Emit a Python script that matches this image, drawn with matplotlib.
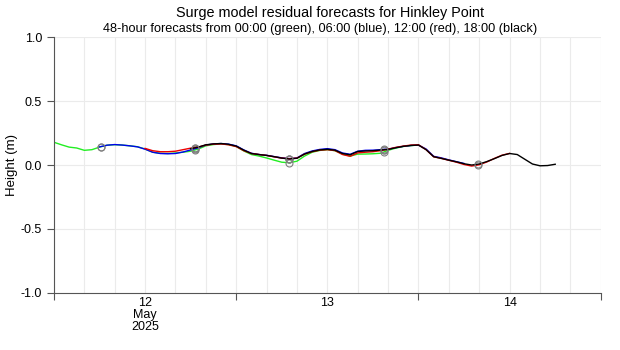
import matplotlib.pyplot as plt
import matplotlib.dates as mdates
import numpy as np
import pandas as pd

plt.rcParams['font.family'] = ['Liberation Sans', 'DejaVu Sans']

# hourly surge residual (m), each forecast run starts at its issue time
start_green = '2025-05-12 00:00'
green = [0.178, 0.158, 0.140, 0.133, 0.115, 0.120, 0.140, 0.155, 0.159, 0.156,
         0.150, 0.143, 0.125, 0.100, 0.092, 0.090, 0.094, 0.100, 0.108, 0.125,
         0.150, 0.160, 0.165, 0.160, 0.145, 0.110, 0.082, 0.070, 0.055, 0.038,
         0.022, 0.018, 0.030, 0.070, 0.100, 0.114, 0.120, 0.112, 0.085, 0.070,
         0.085, 0.086, 0.088, 0.092, 0.115, 0.132, 0.145, 0.152, 0.156]

start_blue = '2025-05-12 06:00'
blue = [0.142, 0.155, 0.160, 0.156, 0.150, 0.142, 0.124, 0.100, 0.090, 0.088,
        0.090, 0.102, 0.118, 0.135, 0.156, 0.165, 0.168, 0.163, 0.150, 0.118,
        0.092, 0.082, 0.076, 0.066, 0.056, 0.050, 0.055, 0.090, 0.110, 0.122,
        0.128, 0.120, 0.094, 0.084, 0.108, 0.115, 0.116, 0.120, 0.124, 0.136,
        0.146, 0.153, 0.156, 0.125, 0.068, 0.056, 0.040, 0.026, 0.012]

start_red = '2025-05-12 12:00'
red = [0.130, 0.112, 0.104, 0.104, 0.108, 0.120, 0.132, 0.140, 0.156, 0.163,
       0.165, 0.158, 0.144, 0.112, 0.090, 0.082, 0.075, 0.064, 0.054, 0.050,
       0.054, 0.085, 0.104, 0.116, 0.120, 0.113, 0.082, 0.068, 0.095, 0.100,
       0.104, 0.112, 0.124, 0.138, 0.148, 0.156, 0.158, 0.120, 0.064, 0.052,
       0.037, 0.022, 0.004, -0.008, 0.002, 0.024, 0.052, 0.077, 0.091]

start_black = '2025-05-12 18:00'
black = [0.127, 0.140, 0.158, 0.165, 0.168, 0.162, 0.148, 0.116, 0.090, 0.082,
         0.075, 0.065, 0.054, 0.047, 0.053, 0.086, 0.106, 0.118, 0.123, 0.116,
         0.090, 0.080, 0.106, 0.110, 0.112, 0.117, 0.122, 0.135, 0.146, 0.153,
         0.156, 0.120, 0.065, 0.052, 0.038, 0.025, 0.010, 0.000, 0.008, 0.027,
         0.050, 0.075, 0.090, 0.082, 0.045, 0.008, -0.006, -0.004, 0.006]

# predicted high water times (circled on each run)
high_water = ['2025-05-12 06:12', '2025-05-12 18:36', '2025-05-13 07:00',
              '2025-05-13 19:24', '2025-05-14 07:48']

runs = [(start_green, green, '#22ee22'),
        (start_blue, blue, '#0000ee'),
        (start_red, red, '#ee0000'),
        (start_black, black, '#000000')]

fig = plt.figure(figsize=(6.2, 3.5), dpi=100)
ax = fig.add_axes([0.087, 0.163, 0.882, 0.731])

hw = pd.to_datetime(high_water)
for start, vals, col in runs:
    t = pd.date_range(start, periods=len(vals), freq='h')
    ax.plot(t, vals, color=col, lw=1.0)
    # circle each high water falling inside this run
    tn = mdates.date2num(t)
    hn = mdates.date2num(hw)
    inside = (hn >= tn[0]) & (hn <= tn[-1])
    ax.plot(hw[inside], np.interp(hn[inside], tn, vals), 'o', ms=5,
            mfc='none', mec='#808080', mew=0.8)

ax.set_xlim(pd.Timestamp('2025-05-12'), pd.Timestamp('2025-05-15'))
ax.set_ylim(-1.0, 1.0)
ax.set_yticks([-1.0, -0.5, 0.0, 0.5, 1.0])
ax.set_yticklabels(['-1.0', '-0.5', '0.0', '0.5', '1.0'])

ax.xaxis.set_major_locator(mdates.DayLocator())
ax.xaxis.set_major_formatter(plt.NullFormatter())
ax.set_xticks(pd.to_datetime(['2025-05-12 12:00', '2025-05-13 12:00',
                              '2025-05-14 12:00']), minor=True)
ax.set_xticklabels(['12\nMay\n2025', '13', '14'], minor=True, linespacing=1.0)
ax.tick_params(axis='x', which='major', length=5, color='#555555')
ax.tick_params(axis='x', which='minor', length=0, labelsize=9, pad=3)
ax.tick_params(axis='y', length=5, color='#555555', labelsize=9)

# 4-hourly vertical grid and 0.5 m horizontal grid
for g in pd.date_range('2025-05-12', '2025-05-15', freq='4h'):
    ax.axvline(g, color='#ebebeb', lw=0.8, zorder=0)
for g in [0.5, 0.0, -0.5, 1.0]:
    ax.axhline(g, color='#ebebeb', lw=0.8, zorder=0)

for s in ['top', 'right']:
    ax.spines[s].set_visible(False)
for s in ['left', 'bottom']:
    ax.spines[s].set_color('#555555')

ax.set_ylabel('Height (m)', fontsize=9.5)
ax.yaxis.set_label_coords(-0.066, 0.5)
fig.text(0.532, 0.963, 'Surge model residual forecasts for Hinkley Point',
         ha='center', va='center', fontsize=10.4)
fig.text(0.516, 0.918, '48-hour forecasts from 00:00 (green), 06:00 (blue), '
         '12:00 (red), 18:00 (black)', ha='center', va='center', fontsize=9.2)

fig.savefig('out.png', dpi=100)
